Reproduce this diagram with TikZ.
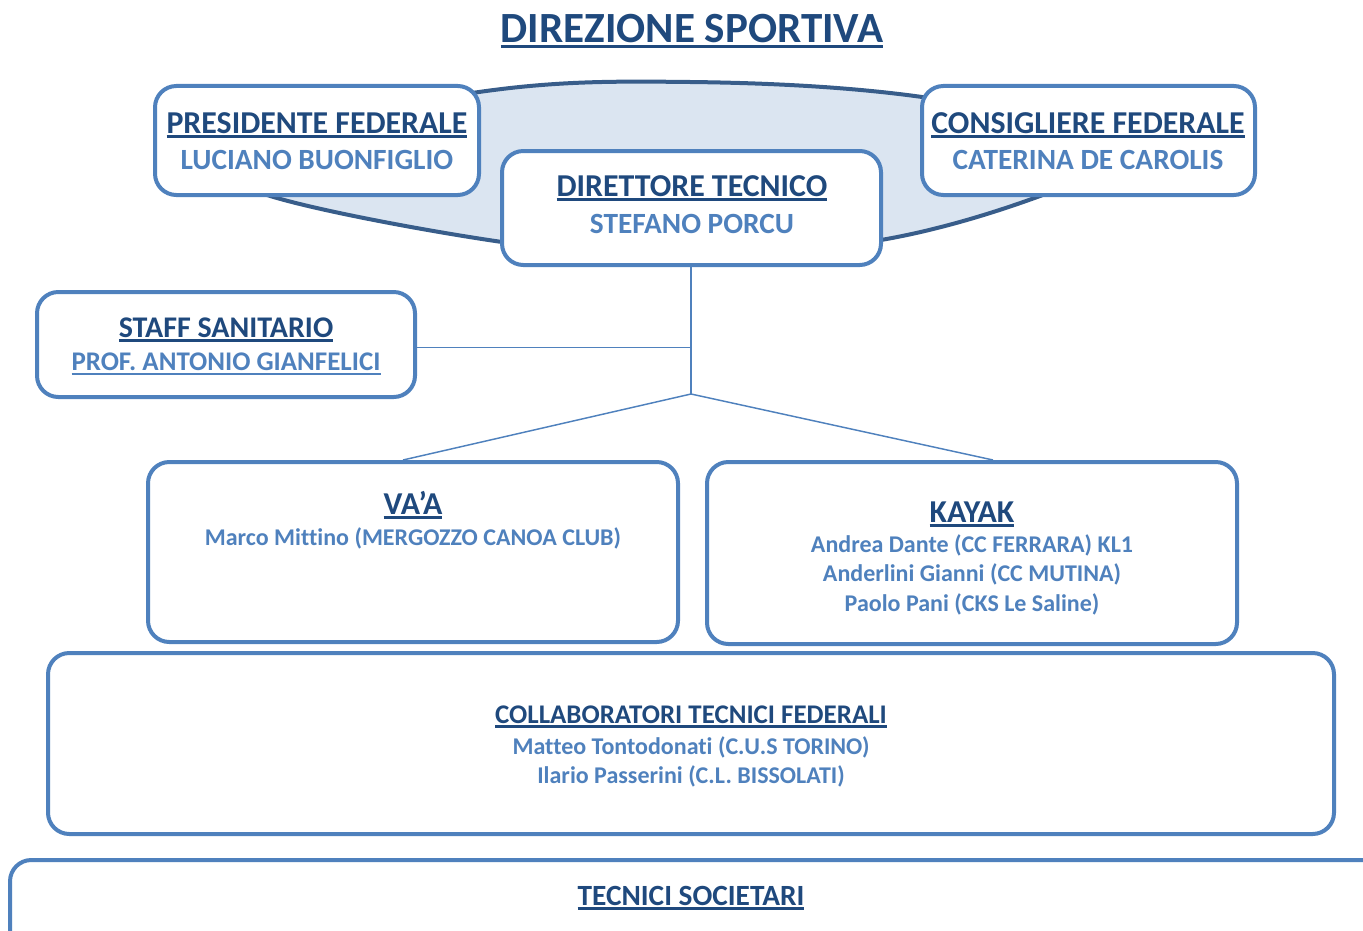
\documentclass[tikz,border=0pt]{standalone}
\usepackage{fontspec}
\setmainfont{Carlito}[Ligatures=NoCommon]
\usetikzlibrary{fit,calc}
\definecolor{dk}{HTML}{1F497D}
\definecolor{md}{HTML}{4F81BD}
\definecolor{ebd}{HTML}{385D8A}
\definecolor{efill}{HTML}{DBE5F1}
\newcommand\myul[2][1.8pt]{\setbox0=\hbox{#2}\rlap{\rule[-3.6pt]{\wd0}{#1}}\box0}
\tikzset{
  box/.style={draw=md, line width=3pt, rounded corners=16pt, fill=white, inner sep=0pt},
  big/.style={font=\bfseries\fontsize{32.3}{40}\selectfont, text=dk, anchor=base, inner sep=0pt},
  ttl/.style={font=\bfseries\fontsize{23.9}{28}\selectfont, text=dk, anchor=base, inner sep=0pt},
  nm/.style={font=\bfseries\fontsize{22}{27}\selectfont, text=md, anchor=base, inner sep=0pt},
  sm/.style={font=\bfseries\fontsize{18}{22}\selectfont, text=md, anchor=base, inner sep=0pt},
  mid/.style={font=\bfseries\fontsize{20.2}{24}\selectfont, text=dk, anchor=base, inner sep=0pt},
  link/.style={draw=md, line width=1.1pt}
}
\begin{document}
\begin{tikzpicture}[x=0.75pt, y=-0.75pt]
\useasboundingbox (0,0) rectangle (1363,931);

% title
\node[big] (title) at (692,43) {\myul[2.2pt]{DIREZIONE SPORTIVA}};

% background shape
\draw[ebd, fill=efill, line width=3pt] plot[smooth cycle, tension=0.6] coordinates
  {(215,150) (479,92) (690,82) (922,97) (1140,145) (1040,196) (881,240) (690,256) (502,242) (267,195)};

% top boxes
\node[box, fit={(155,86) (479,195)}] (pres) {};
\node[ttl] (presT) at (317,133) {\myul{PRESIDENTE FEDERALE}};
\node[nm] (presN) at (317,169) {LUCIANO BUONFIGLIO};

\node[box, fit={(922,86) (1255,195)}] (cons) {};
\node[ttl] (consT) at (1088,133) {\myul{CONSIGLIERE FEDERALE}};
\node[nm] (consN) at (1088,169) {CATERINA DE CAROLIS};

\node[box, fit={(502,151) (881,265)}] (dir) {};
\node[ttl] (dirT) at (692,196) {\myul{DIRETTORE TECNICO}};
\node[nm] (dirN) at (692,233) {STEFANO PORCU};

% staff
\node[box, fit={(37,292) (415,397)}] (staff) {};
\node[ttl, font=\bfseries\fontsize{22.5}{27}\selectfont] (staffT) at (226,337) {\myul{STAFF SANITARIO}};
\node[nm, font=\bfseries\fontsize{20.2}{25}\selectfont] (staffN) at (226,370) {\myul[1.2pt]{PROF. ANTONIO GIANFELICI}};

% VA'A and KAYAK
\node[box, fit={(148,462) (678,642)}] (vaa) {};
\node[ttl] (vaaT) at (413,514) {\myul{VA’A}};
\node[sm] (vaaN) at (413,545) {Marco Mittino (MERGOZZO CANOA CLUB)};

\node[box, fit={(707,462) (1237,644)}] (kay) {};
\node[ttl] (kayT) at (972,522) {\myul{KAYAK}};
\node[sm] (kayN1) at (972,552) {Andrea Dante (CC FERRARA) KL1};
\node[sm] (kayN2) at (972,581) {Anderlini Gianni (CC MUTINA)};
\node[sm] (kayN3) at (972,611) {Paolo Pani (CKS Le Saline)};

% collaboratori
\node[box, fit={(48,653) (1334,834)}] (coll) {};
\node[mid] (collT) at (691,723) {\myul{COLLABORATORI TECNICI FEDERALI}};
\node[sm] (collN1) at (691,754) {Matteo Tontodonati (C.U.S TORINO)};
\node[sm] (collN2) at (691,783) {Ilario Passerini (C.L. BISSOLATI)};

% tecnici societari
\node[box, fit={(10,860) (1420,1000)}] (tec) {};
\node[mid, font=\bfseries\fontsize{22}{26}\selectfont] (tecT) at (691,905) {\myul{TECNICI SOCIETARI}};

% connectors
\coordinate (j) at (691,394);
\draw[link] (dir.south -| j) -- (j);
\draw[link] ($(staff.east)+(0,3)$) -- ($(staff.east -| j)+(0,3)$);
\draw[link] (j) -- ($(vaa.north)+(-10,0)$);
\draw[link] (j) -- ($(kay.north)+(21,0)$);
\end{tikzpicture}
\end{document}
